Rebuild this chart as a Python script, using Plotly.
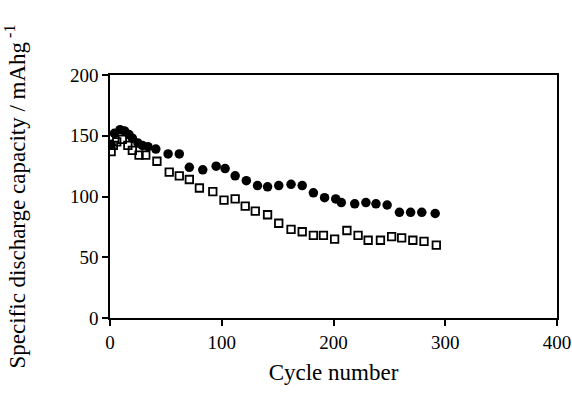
import plotly.graph_objects as go

# Filled circles series
circ_x = [1, 4, 9, 13, 17, 20, 25, 29, 34, 41, 52, 62, 71, 83, 95, 103, 112, 122,
          132, 141, 151, 162, 172, 182, 192, 202, 207, 219, 229, 238, 248, 259, 269, 279, 291]
circ_y = [143, 152, 155, 154, 151, 148, 144, 142, 141, 139, 135, 135, 124, 122, 125, 123, 117, 113,
          109, 108, 109, 110, 109, 103, 99, 98, 95, 94, 95, 94, 93, 87, 87, 87, 86]

# Open squares series
sq_x = [1, 3, 6, 11, 16, 20, 26, 32, 42, 53, 62, 71, 80, 92, 102, 112, 121, 130, 141,
        151, 162, 172, 182, 191, 201, 212, 222, 231, 242, 252, 261, 271, 281, 292]
sq_y = [137, 142, 145, 147, 142, 138, 134, 134, 129, 120, 117, 114, 107, 104, 97, 98, 92, 88, 85,
        78, 73, 71, 68, 68, 65, 72, 68, 64, 64, 67, 66, 64, 63, 60]

x_ticks = [0, 100, 200, 300, 400]
y_ticks = [0, 50, 100, 150, 200]

fig = go.Figure()
fig.add_trace(go.Scatter(x=sq_x, y=sq_y, mode="markers",
                         marker=dict(symbol="square-open", size=7.5, color="black",
                                     line=dict(width=1.8, color="black"))))
fig.add_trace(go.Scatter(x=circ_x, y=circ_y, mode="markers",
                         marker=dict(symbol="circle", size=9.5, color="black")))

font = "Liberation Serif, Times New Roman, serif"
fig.update_layout(
    width=572, height=396,
    margin=dict(l=110, r=15, t=75, b=78),
    paper_bgcolor="white", plot_bgcolor="white",
    showlegend=False,
    font=dict(family=font, size=19, color="black"),
    xaxis=dict(range=[0, 400], tickvals=x_ticks, ticks="outside", ticklen=6, tickwidth=1.5,
               tickcolor="black", showline=True, linecolor="black", linewidth=1.5, mirror=True,
               showgrid=False, zeroline=False, automargin=False,
               title=dict(text="Cycle number", font=dict(family=font, size=23), standoff=12)),
    yaxis=dict(range=[0, 200], tickvals=y_ticks, ticks="outside", ticklen=6, tickwidth=1.5,
               tickcolor="black", showline=True, linecolor="black", linewidth=1.5, mirror=True,
               showgrid=False, zeroline=False,
               title=dict(text="Specific discharge capacity / mAhg<sup> -1</sup>",
                          font=dict(family=font, size=23), standoff=38)),
)

fig.write_html("out.html")
